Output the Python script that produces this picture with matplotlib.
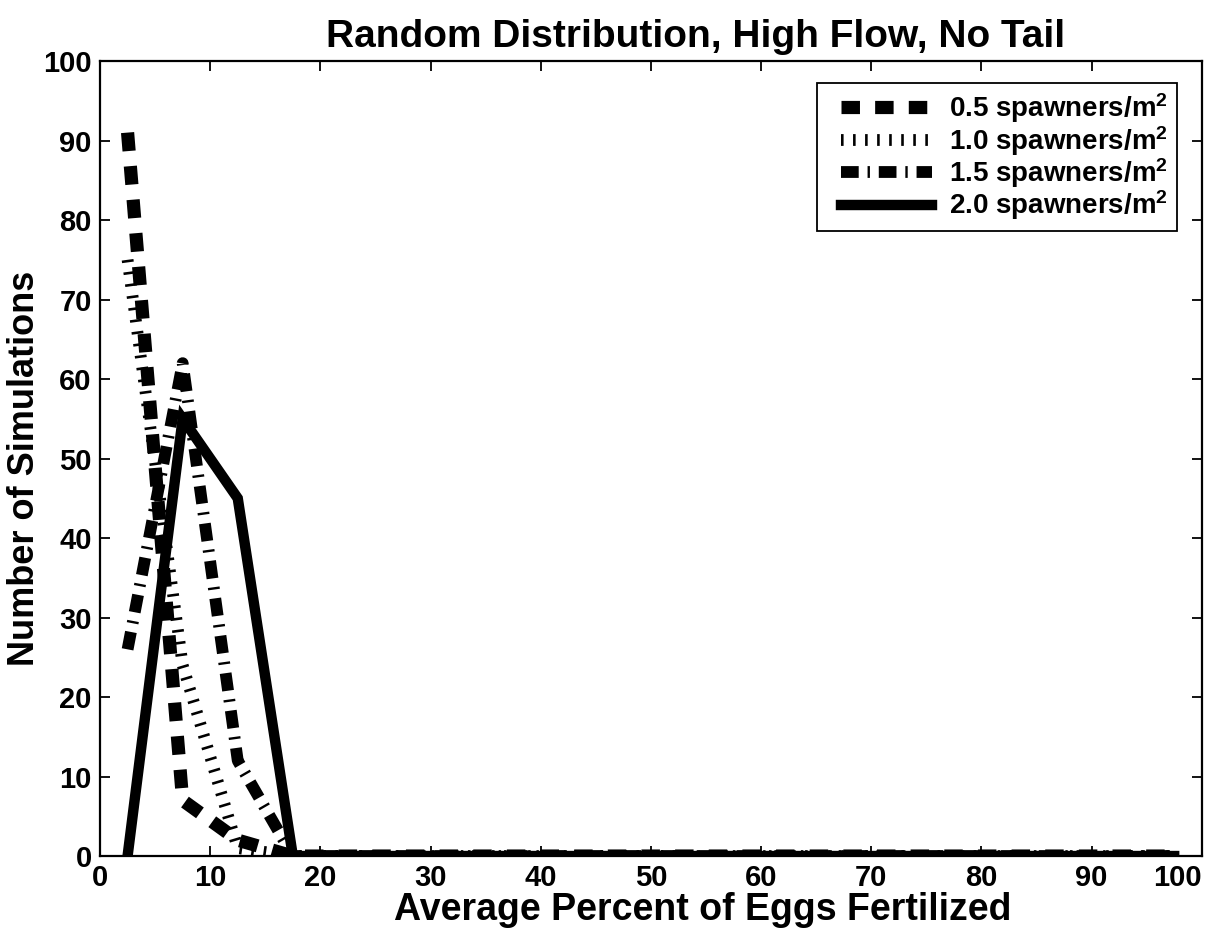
import numpy as np
import matplotlib
matplotlib.use("Agg")
import matplotlib.pyplot as plt
from matplotlib.legend_handler import HandlerLine2D

plt.rcParams['font.family'] = ['Liberation Sans', 'DejaVu Sans']
plt.rcParams['font.weight'] = 'bold'
plt.rcParams['mathtext.fontset'] = 'custom'
plt.rcParams['mathtext.rm'] = 'Liberation Sans:bold'
plt.rcParams['mathtext.default'] = 'rm'

# bin centres of the fertilization histogram (5% wide bins)
centers = np.arange(2.5, 100, 5.0)

# number of simulations (out of 100) in each bin, first four bins; rest are zero
counts_05 = [91, 7, 2, 0]
counts_10 = [75, 24, 1, 0]
counts_15 = [26, 62, 12, 0]
counts_20 = [0, 55, 45, 0]

labels = ['0.5 spawners/m$^2$', '1.0 spawners/m$^2$',
          '1.5 spawners/m$^2$', '2.0 spawners/m$^2$']


def pad(c):
    out = np.zeros(centers.size)
    out[:len(c)] = c
    return out


fig = plt.figure(figsize=(12.2, 9.32), dpi=100)
ax = fig.add_axes([0.082, 0.0815, 0.903, 0.853])

ax.plot(centers, pad(counts_05), color='k', lw=9.5, dashes=(1.4, 1.15),
        dash_capstyle='butt', label=labels[0])
ax.plot(centers, pad(counts_10), color='k', lw=8.5, dashes=(0.22, 0.8),
        dash_capstyle='butt', label=labels[1])
ax.plot(centers, pad(counts_15), color='k', lw=8.5, dashes=(1.5, 0.75, 0.2, 0.75),
        dash_capstyle='butt', label=labels[2])
ax.plot(centers, pad(counts_20), color='k', lw=7.5, solid_joinstyle='miter',
        label=labels[3], zorder=3)

ax.set_xlim(0, 100)
ax.set_ylim(0, 100)
ax.set_xticks(np.arange(0, 101, 10))
ax.set_yticks(np.arange(0, 101, 10))
ax.tick_params(direction='in', length=7, width=1.3, top=True, right=True,
               labelsize=21, pad=6)
# keep the last x label inside the figure
ax.get_xticklabels()[-1].set_horizontalalignment('right')
for s in ax.spines.values():
    s.set_linewidth(1.6)

ax.set_title('Random Distribution, High Flow, No Tail', fontsize=28,
             fontweight='bold', pad=10)
ax.title.set_x(0.541)
ax.set_xlabel('Average Percent of Eggs Fertilized', fontsize=27,
              fontweight='bold', labelpad=0)
ax.xaxis.label.set_x(0.547)
ax.set_ylabel('Number of Simulations', fontsize=26, fontweight='bold')
ax.yaxis.set_label_coords(-0.053, 0.488)

# legend lines start a little in from the frame edge
leg = ax.legend(loc='upper right', bbox_to_anchor=(0.9773, 0.9723),
                fontsize=20, handlelength=3.85, handletextpad=0.61,
                borderpad=0.3, labelspacing=-0.05, borderaxespad=0,
                fancybox=False, framealpha=1,
                handler_map={plt.Line2D: HandlerLine2D(xpad=0.54)})
leg.get_frame().set_edgecolor('k')
leg.get_frame().set_linewidth(1.3)

fig.savefig('out.png', dpi=100)
